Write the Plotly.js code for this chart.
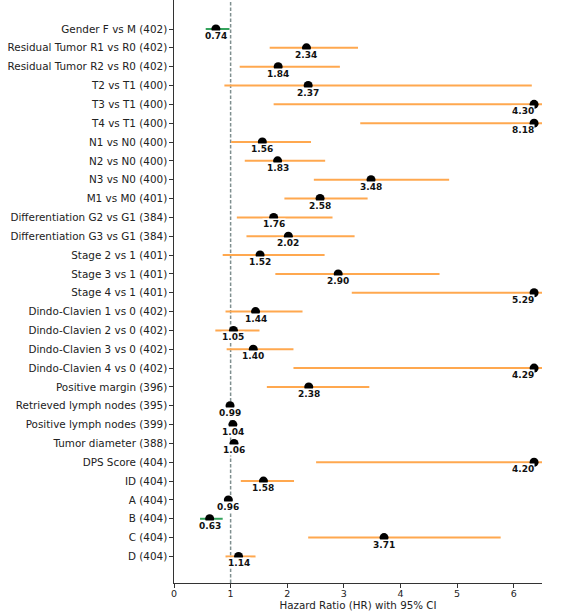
<!DOCTYPE html>
<html>
<head>
<meta charset="utf-8">
<script src="https://cdn.plot.ly/plotly-3.0.1.min.js"></script>
<style>
  html, body { margin: 0; padding: 0; background: #ffffff; }
  #chart { width: 569px; height: 611px; }
</style>
</head>
<body>
<div id="chart"></div>
<script>
// Cox model results: one row per comparison (n in brackets)
const labels = [
  "Gender F vs M (402)",
  "Residual Tumor R1 vs R0 (402)",
  "Residual Tumor R2 vs R0 (402)",
  "T2 vs T1 (400)",
  "T3 vs T1 (400)",
  "T4 vs T1 (400)",
  "N1 vs N0 (400)",
  "N2 vs N0 (400)",
  "N3 vs N0 (400)",
  "M1 vs M0 (401)",
  "Differentiation G2 vs G1 (384)",
  "Differentiation G3 vs G1 (384)",
  "Stage 2 vs 1 (401)",
  "Stage 3 vs 1 (401)",
  "Stage 4 vs 1 (401)",
  "Dindo-Clavien 1 vs 0 (402)",
  "Dindo-Clavien 2 vs 0 (402)",
  "Dindo-Clavien 3 vs 0 (402)",
  "Dindo-Clavien 4 vs 0 (402)",
  "Positive margin (396)",
  "Retrieved lymph nodes (395)",
  "Positive lymph nodes (399)",
  "Tumor diameter (388)",
  "DPS Score (404)",
  "ID (404)",
  "A (404)",
  "B (404)",
  "C (404)",
  "D (404)"
];

const hazardRatio = [0.74, 2.34, 1.84, 2.37, 4.30, 8.18, 1.56, 1.83, 3.48, 2.58,
                     1.76, 2.02, 1.52, 2.90, 5.29, 1.44, 1.05, 1.40, 4.29, 2.38,
                     0.99, 1.04, 1.06, 4.20, 1.58, 0.96, 0.63, 3.71, 1.14];

const ciLower = [0.56, 1.69, 1.16, 0.89, 1.76, 3.29, 1.01, 1.25, 2.47, 1.95,
                 1.11, 1.28, 0.86, 1.79, 3.14, 0.91, 0.73, 0.93, 2.11, 1.64,
                 0.97, 1.02, 1.01, 2.51, 1.18, 0.92, 0.46, 2.37, 0.91];

const ciUpper = [0.98, 3.25, 2.93, 6.32, 10.5, 20.3, 2.42, 2.67, 4.86, 3.42,
                 2.80, 3.19, 2.66, 4.69, 8.91, 2.27, 1.51, 2.11, 8.72, 3.45,
                 1.01, 1.06, 1.11, 7.03, 2.12, 1.00, 0.86, 5.77, 1.44];

const xTicks = [0, 1, 2, 3, 4, 5, 6];

// axis limits; estimates whose interval runs past X_MAX are pinned at X_PIN
const X_MAX = 6.5;
const X_PIN = 6.36;
const ORANGE = "#ffa84f";
const GREEN = "#34a35c";

const rows = labels.map((_, i) => i);
const pinned = rows.map(i => ciUpper[i] > X_MAX);
const markX = rows.map(i => pinned[i] ? X_PIN : hazardRatio[i]);

// confidence-interval segments, split by colour (green: entirely below 1)
function segments(filterFn) {
  const xs = [], ys = [];
  rows.forEach(i => {
    if (!filterFn(i)) return;
    xs.push(ciLower[i], ciUpper[i], null);
    ys.push(i, i, null);
  });
  return { xs, ys };
}
const protective = segments(i => ciUpper[i] < 1);
const risk = segments(i => ciUpper[i] >= 1);

const traces = [
  {
    type: "scatter", mode: "lines",
    x: risk.xs, y: risk.ys,
    line: { color: ORANGE, width: 2 },
    hoverinfo: "skip", showlegend: false
  },
  {
    type: "scatter", mode: "lines",
    x: protective.xs, y: protective.ys,
    line: { color: GREEN, width: 2 },
    hoverinfo: "skip", showlegend: false
  },
  {
    type: "scatter", mode: "markers",
    x: markX, y: rows,
    marker: { color: "#000000", size: 9, line: { width: 0 } },
    cliponaxis: false,
    showlegend: false
  }
];

// value labels under each point; white boxes hide the lower half of the dot
const annotations = rows.map(i => ({
  x: markX[i], y: i, xref: "x", yref: "y",
  text: hazardRatio[i].toFixed(2),
  showarrow: false,
  xanchor: pinned[i] ? "right" : "center",
  xshift: pinned[i] ? 1 : 0,
  yanchor: "top",
  yshift: -1,
  bgcolor: "#ffffff",
  borderpad: 0,
  font: { family: "DejaVu Sans", size: 9, color: "#111111", weight: "bold" }
}));

const layout = {
  width: 569, height: 611,
  margin: { l: 174, r: 27, t: 0, b: 28, pad: 0 },
  paper_bgcolor: "#ffffff",
  plot_bgcolor: "#ffffff",
  font: { family: "DejaVu Sans", size: 10, color: "#222222" },
  xaxis: {
    range: [0, X_MAX],
    tickvals: xTicks,
    ticktext: xTicks.map(String),
    showgrid: false, zeroline: false,
    showline: true, linecolor: "#333333", linewidth: 1.2,
    ticks: "outside", ticklen: 3.5, tickwidth: 1, tickcolor: "#333333",
    ticklabelstandoff: -2,
    tickfont: { family: "DejaVu Sans", size: 9.5, color: "#222222" },
    title: { text: "Hazard Ratio (HR) with 95% CI", standoff: 3,
             font: { family: "DejaVu Sans", size: 10.3, color: "#222222" } }
  },
  yaxis: {
    range: [29.41, -1.54],
    tickvals: rows,
    ticktext: labels,
    showgrid: false, zeroline: false,
    showline: true, linecolor: "#333333", linewidth: 1.2,
    ticks: "outside", ticklen: 3.5, tickwidth: 1, tickcolor: "#333333",
    tickfont: { family: "DejaVu Sans", size: 10.4, color: "#222222" }
  },
  shapes: [
    {
      type: "line", layer: "below",
      xref: "x", yref: "paper",
      x0: 1, x1: 1, y0: 0, y1: 1,
      line: { color: "#7f8f8f", width: 1.5, dash: "3.5px,2px" }
    }
  ],
  annotations: annotations
};

Plotly.newPlot("chart", traces, layout, { displayModeBar: false, staticPlot: true });
</script>
</body>
</html>
